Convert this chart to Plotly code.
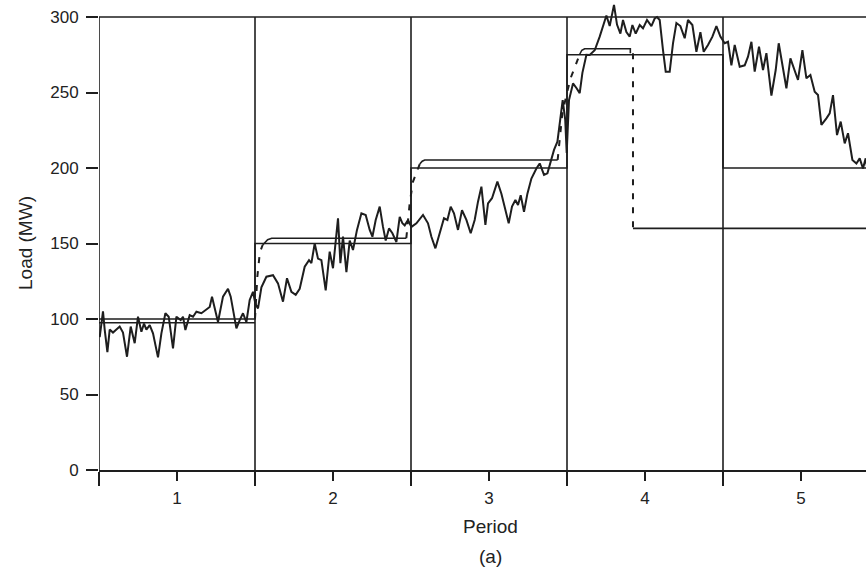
import plotly.graph_objects as go

# ---------------- data ----------------
# Measured load (MW) vs. period position
load_x = [0.5045, 0.5256, 0.5365, 0.5538, 0.5686, 0.5897, 0.6115, 0.6327, 0.6538, 0.6795,
          0.7032, 0.7179, 0.7288, 0.75, 0.7718, 0.7885, 0.8038, 0.825, 0.8462, 0.8782,
          0.9, 0.9256, 0.9468, 0.9744, 0.9962, 1.0237, 1.0385, 1.0538, 1.0814, 1.1026,
          1.1244, 1.1564, 1.1885, 1.2096, 1.2244, 1.2417, 1.2628, 1.2949, 1.3269, 1.3442,
          1.3808, 1.4019, 1.4231, 1.4449, 1.466, 1.4872, 1.5026,
          1.5192, 1.541, 1.5731, 1.6154, 1.6474, 1.6795, 1.7051, 1.7333, 1.7609, 1.7865,
          1.8186, 1.8462, 1.8615, 1.8827, 1.9038, 1.9256, 1.9532, 1.9788, 2.0, 2.0173,
          2.0321, 2.0474, 2.0641, 2.0859, 2.1071, 2.1282, 2.1538, 2.1821, 2.2096, 2.2353,
          2.2526, 2.2737, 2.2994, 2.3205, 2.3378, 2.359, 2.3808, 2.4064, 2.4276, 2.4449,
          2.4596, 2.4808, 2.5026,
          2.5346, 2.5769, 2.609, 2.6308, 2.6564, 2.684, 2.7115, 2.7333, 2.7545, 2.7756,
          2.8013, 2.8269, 2.8551, 2.8827, 2.9083, 2.9295, 2.9513, 2.9769, 2.9936, 3.0192,
          3.0538, 3.0795, 3.1006, 3.1263, 3.1474, 3.1692, 3.1859, 3.2032, 3.2244, 3.2462,
          3.2718, 3.3038, 3.325, 3.3526, 3.3744, 3.3955, 3.4167, 3.4385, 3.4532, 3.4724,
          3.4885, 3.4981, 3.5128,
          3.5385, 3.5603, 3.5814, 3.5987, 3.6244, 3.6455, 3.6776, 3.7096, 3.7526, 3.7737,
          3.8013, 3.8205, 3.8423, 3.859, 3.8808, 3.9019, 3.9192, 3.9404, 3.966, 3.9872,
          4.0128, 4.041, 4.0622, 4.0769, 4.0942, 4.1154, 4.1327, 4.1583, 4.1795, 4.2013,
          4.2269, 4.2545, 4.2756, 4.3038, 4.3295, 4.3551, 4.3763, 4.4038, 4.4321, 4.4577,
          4.4833,
          4.5109, 4.5321, 4.5538, 4.575, 4.6071, 4.6391, 4.6603, 4.6821, 4.7032, 4.7308,
          4.7564, 4.7782, 4.8103, 4.8378, 4.8571, 4.8808, 4.9064, 4.9321, 4.9596, 4.9808,
          5.009, 5.0346, 5.0603, 5.0878, 5.109, 5.1308, 5.1628, 5.184, 5.2051, 5.2308,
          5.2545, 5.2801, 5.3013, 5.3295, 5.3551, 5.3763, 5.3974, 5.4147, 5.44]
load_y = [88, 105, 93, 78, 93, 91, 93, 95, 91, 75,
          95, 88, 84, 101.5, 91.6, 97, 93, 96, 90.5, 74.6,
          90.5, 103.8, 101.5, 80.6, 101.5, 99.3, 101.5, 92.7, 102.6, 101.5,
          104.8, 103.8, 106, 108, 114.8, 108, 98, 114.8, 120, 114.8,
          93.8, 99.3, 103.8, 98, 112.6, 118, 110,
          107, 121, 128, 129, 123.6, 111.5, 127, 118, 116, 120,
          134.6, 139, 137, 150, 140, 139, 119, 144.6, 133.6, 152,
          166.7, 137, 154.5, 131, 152, 145.7, 159, 170, 168.9, 159,
          154.5, 165.6, 174.4, 161, 152, 160, 156.8, 151, 167.7, 163.4,
          162, 165.6, 161,
          163.4, 168.9, 163.4, 154.5, 146.8, 156.8, 166.7, 165.6, 174.4, 170,
          159, 172, 165.6, 156.8, 165.6, 177.7, 187.6, 162.3, 176.6, 180,
          191, 183, 174.4, 163.4, 174.4, 178.8, 175.5, 182, 171, 183,
          193, 199.7, 203, 195.4, 196.5, 204, 212, 217.4, 229, 245,
          232, 210, 245,
          256, 253, 249.6, 263, 275, 274.8, 278, 287, 301, 294,
          308, 295, 289, 298, 290, 287, 294.7, 289, 294.7, 292.5,
          298, 294, 299, 300, 298, 278, 263.8, 263.8, 282.6, 296,
          294, 285.9, 298, 294.7, 277, 290, 277, 281.5, 287, 294,
          287,
          282.6, 283.6, 268, 281.5, 267, 268, 273.7, 283.6, 263.8, 280.3,
          264.9, 276, 248, 264.9, 282.6, 267, 252.8, 272.6, 264.9, 258.3,
          278, 259.4, 261.6, 250.5, 248.3, 228.5, 232.9, 236.2, 248.3, 221.8,
          230.7, 216.3, 223, 205.3, 203, 206.4, 199.7, 206.4, 190]

# Period boundaries and target (series A) step levels
period_edges = [0.5, 1.5, 2.5, 3.5, 4.5, 5.45]
levels_a = [100, 150, 200, 275, 200]

# Series B: solid parts and dashed ramps
b_solid_x = [0.5, 1.5, None, 1.549, 1.569, 1.581, 1.607, 2.47, None,
             2.556, 2.572, 2.588, 3.44, None,
             3.58, 3.595, 3.613, 3.906, 3.906, None, 3.923, 5.45]
b_solid_y = [97.5, 97.5, None, 149, 151, 152.5, 153.5, 153.5, None,
             202.6, 204.5, 205.3, 205.3, None,
             275, 278, 279, 279, 276, None, 160, 160]
b_dash_x = [1.5, 1.515, 1.531, 1.549, None,
            2.47, 2.492, 2.513, 2.535, 2.556, None,
            3.44, 3.47, 3.50, 3.525, 3.555, 3.58, None,
            3.923, 3.923]
b_dash_y = [100, 128, 144, 149, None,
            153.5, 177, 191, 197.6, 202.6, None,
            205.3, 236, 250, 260, 268, 275, None,
            276, 160]

x_ticks = [1, 2, 3, 4, 5]
y_ticks = [0, 50, 100, 150, 200, 250, 300]
y_top = 300

# ---------------- figure ----------------
ink = "#1e1e1e"
font_family = "Liberation Sans, Arial, sans-serif"

fig = go.Figure()

# Frame: vertical period boundaries (incl. left axis) and top line at 300
vx, vy = [], []
for e in period_edges[:-1]:
    vx += [e, e, None]
    vy += [0, y_top, None]
fig.add_trace(go.Scatter(x=vx, y=vy, mode="lines",
                         line=dict(color=ink, width=1.6), hoverinfo="skip"))
fig.add_trace(go.Scatter(x=[period_edges[0], period_edges[-1]], y=[y_top, y_top],
                         mode="lines", line=dict(color=ink, width=1.6), hoverinfo="skip"))

# Series A step
fig.add_trace(go.Scatter(x=period_edges, y=levels_a + [levels_a[-1]], mode="lines",
                         line=dict(color=ink, width=1.6, shape="hv")))

# Series B
fig.add_trace(go.Scatter(x=b_solid_x, y=b_solid_y, mode="lines",
                         line=dict(color=ink, width=1.6)))
fig.add_trace(go.Scatter(x=b_dash_x, y=b_dash_y, mode="lines",
                         line=dict(color=ink, width=2, dash="6px,8px")))

# Load curve
fig.add_trace(go.Scatter(x=load_x, y=load_y, mode="lines",
                         line=dict(color=ink, width=2)))

plot_h = 470
y_max = plot_h / 1.51
x_max = 0.5 + 767 / 156

fig.update_layout(
    width=866, height=571,
    margin=dict(l=99, r=0, t=0, b=101, autoexpand=False),
    paper_bgcolor="white", plot_bgcolor="white",
    showlegend=False,
    font=dict(family=font_family, size=17, color="#222"),
    xaxis=dict(range=[0.5, x_max], tickvals=x_ticks, ticktext=[str(t) for t in x_ticks],
               showgrid=False, zeroline=False, showline=True, linecolor=ink, linewidth=1.6,
               ticks="outside", ticklen=9, tickwidth=1.6, tickcolor=ink,
               minor=dict(tick0=0.5, dtick=1, ticks="outside", ticklen=14,
                          tickwidth=1.6, tickcolor=ink, showgrid=False),
               ticklabelstandoff=3,
               tickfont=dict(size=17)),
    yaxis=dict(range=[0, y_max], tickvals=y_ticks, showgrid=False, zeroline=False,
               showline=False, ticks="outside", ticklen=12, tickwidth=1.6, tickcolor=ink,
               ticklabelstandoff=4,
               tickfont=dict(size=17)),
    annotations=[
        dict(text="Load (MW)", x=25, y=571 - 243, xref="paper", yref="paper",
             showarrow=False, textangle=-90, font=dict(size=19)),
        dict(text="Period", x=490.5, y=571 - 526, xref="paper", yref="paper",
             showarrow=False, font=dict(size=19)),
        dict(text="(a)", x=490.5, y=571 - 556, xref="paper", yref="paper",
             showarrow=False, font=dict(size=19)),
    ],
)

# Convert pixel-based annotation positions to paper coordinates
for ann in fig.layout.annotations:
    px_x = ann.x
    px_y_from_bottom = ann.y
    ann.x = (px_x - 99) / 767
    ann.y = (px_y_from_bottom - 101) / 470
    ann.xanchor = "center"
    ann.yanchor = "middle"

fig.write_html("out.html",
               config={"displayModeBar": False},
               post_script="document.body.style.margin='0';document.body.style.padding='0';")
